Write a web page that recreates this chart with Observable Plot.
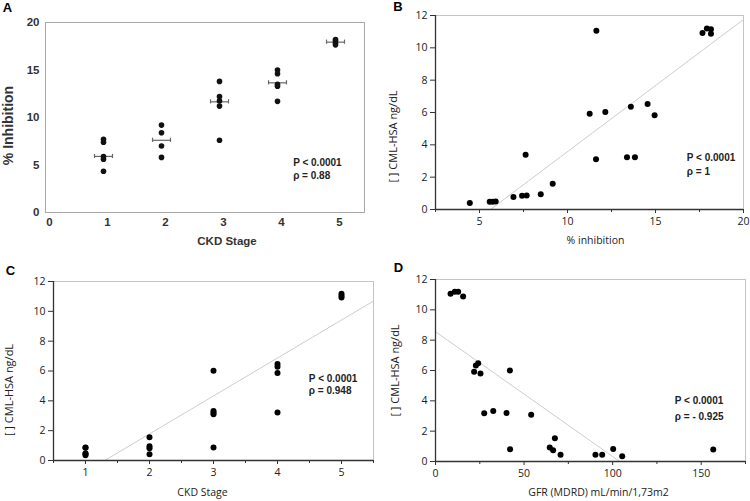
<!DOCTYPE html>
<html><head><meta charset="utf-8">
<script src="https://cdn.jsdelivr.net/npm/d3@7"></script>
<script src="https://cdn.jsdelivr.net/npm/@observablehq/plot@0.6"></script>
<style>
body{margin:0;background:#fff;}
#wrap{position:relative;width:750px;height:501px;overflow:hidden;background:#fff;}
#wrap svg{position:absolute;}
</style></head><body><div id="wrap"></div>
<script>
// ---------- Panel A : % inhibition by CKD stage ----------
const aStage = [1,1,1,1,1, 2,2,2,2, 3,3,3,3,3, 4,4,4,4,4, 5,5,5,5];
const aInhibition = [7.7,7.4,5.9,5.6,4.35, 9.2,8.4,7.0,5.8, 13.8,12.2,11.75,11.2,7.6, 15.0,14.6,13.5,13.3,11.7, 18.2,18.05,17.85,17.65];
const aMeanStage = [1,2,3,4,5];
const aMeanInhibition = [5.9,7.6,11.65,13.65,17.93];
const aXTicks = [0,1,2,3,4,5];
const aYTicks = [0,5,10,15,20];
const aStats = ["P < 0.0001","ρ = 0.88"];

// ---------- Panel B : CML-HSA vs % inhibition ----------
const bInhibition = [4.45,5.58,5.75,5.92,6.93,7.42,7.68,7.62,8.48,9.16,11.26,11.64,11.62,12.15,13.38,13.83,13.6,14.55,14.95,17.67,17.92,18.15,18.15];
const bCml        = [0.40,0.48,0.48,0.50,0.78,0.85,0.87,3.38,0.95,1.59,5.93,11.06,3.11,6.03,3.23,3.23,6.36,6.53,5.83,10.91,11.2,11.15,10.87];
const bTrendX = [5.62,20];
const bTrendY = [0,11.75];
const bXTicks = [5,10,15,20];
const bXMinor = [2.5,7.5,12.5,17.5];
const bYTicks = [0,2,4,6,8,10,12];
const bStats = ["P < 0.0001","ρ = 1"];

// ---------- Panel C : CML-HSA by CKD stage ----------
const cStage = [1,1,1,1,1, 2,2,2,2, 3,3,3,3,3, 4,4,4,4, 5,5,5];
const cCml   = [0.85,0.87,0.45,0.47,0.35, 1.56,0.95,0.82,0.42, 6.02,3.32,3.2,3.1,0.87, 6.47,6.29,5.87,3.21, 11.18,11.05,10.93];
const cTrendX = [1.3,5.5];
const cTrendY = [0,10.69];
const cXTicks = [1,2,3,4,5];
const cXMinor = [0.5,1.5,2.5,3.5,4.5,5.5];
const cYTicks = [0,2,4,6,8,10,12];
const cStats = ["P < 0.0001","ρ = 0.948"];

// ---------- Panel D : CML-HSA vs GFR ----------
const dGfr = [8.5,10.9,12.8,15.6,21.8,22.8,24.1,25.4,27.5,32.6,40.1,42.0,42.1,54.0,64.5,66.4,67.4,70.6,90.3,94.1,100.3,105.4,156.8];
const dCml = [11.06,11.19,11.19,10.88,5.91,6.33,6.48,5.80,3.18,3.33,3.20,6.0,0.81,3.09,0.92,0.74,1.53,0.44,0.44,0.44,0.83,0.35,0.79];
const dTrendX = [0,104];
const dTrendY = [8.56,0];
const dXTicks = [0,50,100,150];
const dXMinor = [25,75,125,175];
const dYTicks = [0,2,4,6,8,10,12];
const dStats = ["P < 0.0001","ρ = - 0.925"];

const wrap = document.getElementById("wrap");
const zip = (xs, ys) => xs.map((x,i)=>({x, y: ys[i]}));
const statFont = "'Liberation Sans Narrow', 'Liberation Sans', sans-serif";
const letterFont = "'Liberation Sans', Arial, sans-serif";

function place(svg, left, top){ svg.style.left = left+"px"; svg.style.top = top+"px"; wrap.appendChild(svg); }

// ----- A -----
const aData = zip(aStage, aInhibition);
const aMeans = zip(aMeanStage, aMeanInhibition);
const aHalf = 0.155, aCap = 0.22;
const aCaps = aMeans.flatMap(d => [d.x - aHalf, d.x + aHalf].map(x => ({x, y: d.y})));
const plotA = Plot.plot({
  width: 375, height: 250, marginLeft: 45, marginRight: 11, marginTop: 22, marginBottom: 38,
  x: {domain: [0, 5.5]}, y: {domain: [0, 20]},
  style: {fontFamily: letterFont, fontWeight: "bold", fontSize: "11px", color: "#333", background: "transparent"},
  marks: [
    Plot.frame({stroke: "#a8a8a8"}),
    Plot.axisY(aYTicks, {tickSize: 0, tickPadding: 6, label: null, fontSize: 11.5}),
    Plot.axisX(aXTicks, {tickSize: 0, tickPadding: 5, dx: 4, label: null, fontSize: 11.5}),
    Plot.ruleY(aMeans, {y: "y", x1: d => d.x - aHalf, x2: d => d.x + aHalf, stroke: "#666", strokeWidth: 1.2}),
    Plot.ruleX(aCaps, {x: "x", y1: d => d.y - aCap, y2: d => d.y + aCap, stroke: "#666", strokeWidth: 1.2}),
    Plot.dot(aData, {x: "x", y: "y", r: 2.8, fill: "#111"}),
    Plot.text(["% Inhibition"], {frameAnchor: "left", rotate: -90, textAnchor: "middle", lineAnchor: "middle", dx: -37, dy: 8, fontSize: 14, fontWeight: "bold", fill: "#333"}),
    Plot.text(["CKD Stage"], {frameAnchor: "bottom", dx: 22, dy: 29, lineAnchor: "middle", fontSize: 11.5, fontWeight: "bold", fill: "#333"}),
    Plot.text([aStats.join("\n")], {x: 4.27, y: 5.9, textAnchor: "start", lineAnchor: "top", lineHeight: 1.3, fontFamily: statFont, fontSize: 10, fontWeight: "bold", fill: "#222"}),
    Plot.text(["A"], {frameAnchor: "top-left", dx: -38, dy: -15, textAnchor: "middle", lineAnchor: "middle", fontSize: 13, fontWeight: "bold", fill: "#000"})
  ]
});
place(plotA, 0, 0);

// shared maker for B, C, D
function scatter({width, height, margins, xDomain, yDomain, xTicks, xMinor, yTicks, data, trend, stats, statsAt, statsLH, xLabel, xLabelOff, yLabel, yLabelOff, letter, letterOff}){
  return Plot.plot({
    width, height, ...margins,
    x: {domain: xDomain}, y: {domain: yDomain},
    style: {fontFamily: "'Open Sans', 'Noto Sans', sans-serif", fontSize: "10.5px", color: "#222", background: "transparent"},
    marks: [
      Plot.frame({stroke: "#c4c4c4"}),
      Plot.line(trend, {x: "x", y: "y", stroke: "#cdcdcd", strokeWidth: 1}),
      Plot.ruleX([xDomain[0]], {stroke: "#333", strokeWidth: 1.3}),
      Plot.ruleY([yDomain[0]], {stroke: "#333", strokeWidth: 1.3}),
      Plot.axisY(yTicks, {tickSize: 5, tickPadding: 3, label: null, stroke: "#333"}),
      Plot.axisX(xMinor, {tickSize: 3, tickFormat: () => "", label: null, stroke: "#333"}),
      Plot.axisX(xTicks, {tickSize: 4, tickPadding: 4, label: null, stroke: "#333"}),
      Plot.dot(data, {x: "x", y: "y", r: 3, fill: "#000"}),
      Plot.text([yLabel], {frameAnchor: "left", rotate: -90, textAnchor: "middle", lineAnchor: "middle", dx: yLabelOff[0], dy: yLabelOff[1], fontSize: 11, fill: "#222"}),
      Plot.text([xLabel], {frameAnchor: "bottom", dx: xLabelOff[0], dy: xLabelOff[1], lineAnchor: "middle", fontSize: 10.5, fill: "#222"}),
      Plot.text([stats.join("\n")], {x: statsAt[0], y: statsAt[1], textAnchor: "start", lineAnchor: "top", lineHeight: statsLH, fontFamily: statFont, fontSize: 10, fontWeight: "bold", fill: "#222"}),
      Plot.text([letter], {frameAnchor: "top-left", dx: letterOff[0], dy: letterOff[1], textAnchor: "middle", lineAnchor: "middle", fontFamily: letterFont, fontSize: 13, fontWeight: "bold", fill: "#000"})
    ]
  });
}

const yLab = "[ ] CML-HSA ng/dL";

place(scatter({
  width: 375, height: 250, margins: {marginLeft: 60, marginRight: 7, marginTop: 15, marginBottom: 41},
  xDomain: [2.5, 20], yDomain: [0, 12], xTicks: bXTicks, xMinor: bXMinor, yTicks: bYTicks,
  data: zip(bInhibition, bCml), trend: zip(bTrendX, bTrendY),
  stats: bStats, statsAt: [16.78, 3.56], statsLH: 1.33,
  xLabel: "% inhibition", xLabelOff: [6, 31], yLabel: yLab, yLabelOff: [-42, 24],
  letter: "B", letterOff: [-37.5, -9]
}), 375, 0);

place(scatter({
  width: 375, height: 251, margins: {marginLeft: 53, marginRight: 2, marginTop: 31, marginBottom: 41},
  xDomain: [0.5, 5.5], yDomain: [0, 12], xTicks: cXTicks, xMinor: cXMinor, yTicks: cYTicks,
  data: zip(cStage, cCml), trend: zip(cTrendX, cTrendY),
  stats: cStats, statsAt: [4.49, 5.9], statsLH: 1.27,
  xLabel: "CKD Stage", xLabelOff: [-11, 32], yLabel: yLab, yLabelOff: [-44, 19],
  letter: "C", letterOff: [-43, -11]
}), 0, 250);

place(scatter({
  width: 375, height: 251, margins: {marginLeft: 60, marginRight: 5, marginTop: 29, marginBottom: 40},
  xDomain: [0, 175], yDomain: [0, 12], xTicks: dXTicks, xMinor: dXMinor, yTicks: dYTicks,
  data: zip(dGfr, dCml), trend: zip(dTrendX, dTrendY),
  stats: dStats, statsAt: [135.1, 4.57], statsLH: 1.6,
  xLabel: "GFR (MDRD) mL/min/1,73m2", xLabelOff: [8, 31], yLabel: yLab, yLabelOff: [-40, 0],
  letter: "D", letterOff: [-37, -12]
}), 375, 250);
</script></body></html>
